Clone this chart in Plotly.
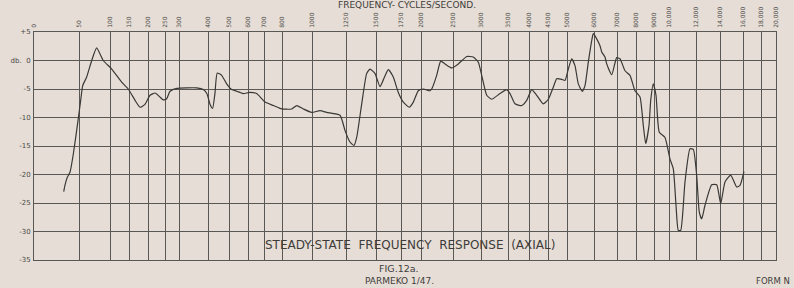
import numpy as np
import plotly.graph_objects as go

# Frequency axis (non-uniform chart-paper scale): tick frequencies, labels and relative positions
tick_freqs = [0, 50, 100, 150, 200, 250, 300, 400, 500, 600, 700, 800, 1000, 1250, 1500, 1750,
              2000, 2500, 3000, 3500, 4000, 4500, 5000, 6000, 7000, 8000, 9000, 10000, 12000,
              14000, 16000, 18000, 20000]
tick_labels = ["0", "50", "100", "150", "200", "250", "300", "400", "500", "600", "700", "800",
               "1000", "1250", "1500", "1750", "2000", "2500", "3000", "3500", "4000", "4500",
               "5000", "6000", "7000", "8000", "9000", "10,000", "12,000", "14,000", "16,000",
               "18,000", "20,000"]
scale_pos = [0, 45, 76, 95, 114, 131, 145, 174, 195, 214, 230, 248, 278, 312, 342, 367, 387,
             419, 447, 474, 495, 514, 533, 560, 583, 602, 620, 635, 662, 686, 709, 727, 742]

db_ticks = [5, 0, -5, -10, -15, -20, -25, -30, -35]
db_labels = ["+5", "db.  0", "-5", "-10", "-15", "-20", "-25", "-30", "-35"]

# Measured response: frequency (c/s) and level (dB)
freq = [33, 34.4, 37, 40, 43.7, 49.2, 52.7, 56, 62.4, 70.5, 78.5, 89.2, 104.5, 130.8, 148, 166,
        179, 192, 206, 221, 235, 245, 256, 268, 292, 327, 361, 384, 396, 410, 422, 433, 444, 465,
        489, 514, 541, 558, 575, 612, 654, 706, 752, 798, 865, 898, 942, 998, 1059, 1108, 1206,
        1243, 1283, 1317, 1339, 1381, 1422, 1450, 1492, 1540, 1573, 1623, 1673, 1723, 1779, 1854,
        1904, 1966, 2036, 2141, 2167, 2245, 2308, 2375, 2480, 2595, 2745, 2862, 2952, 3013, 3106,
        3198, 3352, 3476, 3548, 3667, 3826, 3945, 4071, 4203, 4376, 4508, 4639, 4729, 4860, 4947,
        5048, 5174, 5296, 5419, 5567, 5667, 5789, 5915, 5974, 6117, 6261, 6335, 6478, 6552, 6770,
        6987, 7158, 7421, 7684, 7947, 8222, 8406, 8539, 8722, 8817, 8961, 9133, 9353, 9733,
        10074, 10319, 10519, 10689, 10867, 11185, 11556, 11800, 12058, 12275, 12475, 12750,
        13308, 13725, 14061, 14435, 14930, 15452, 15739, 16111]
level = [-23.0, -21.9, -20.5, -19.6, -16.4, -10.2, -7.0, -4.4, -2.9, 0.0, 2.2, 0.0, -1.5, -3.8,
         -5.0, -7.0, -8.2, -7.7, -6.1, -5.7, -6.4, -6.9, -6.7, -5.4, -4.9, -4.8, -4.8, -5.1, -5.8,
         -7.7, -8.4, -5.8, -2.2, -2.6, -4.1, -5.1, -5.4, -5.6, -5.8, -5.6, -5.8, -7.3, -7.9, -8.5,
         -8.5, -7.9, -8.5, -9.1, -8.8, -9.1, -9.6, -12.3, -14.3, -14.9, -13.5, -7.6, -2.3, -1.5,
         -2.3, -4.6, -3.4, -1.6, -2.9, -5.6, -7.3, -8.2, -7.3, -5.3, -5.0, -5.3, -5.0, -2.6, -0.1,
         -0.6, -1.3, -0.6, 0.7, 0.6, -0.3, -2.6, -6.1, -6.8, -5.8, -5.1, -5.8, -7.6, -7.9, -7.0,
         -5.1, -6.1, -7.6, -6.8, -4.7, -3.2, -3.3, -3.5, -1.5, 0.3, -0.9, -4.1, -5.4, -4.4, -0.3,
         3.5, 4.7, 3.8, 2.6, 1.5, 0.6, -0.6, -2.5, 0.5, 0.3, -1.8, -2.6, -5.3, -6.4, -11.4, -14.6,
         -11.4, -7.0, -4.1, -6.1, -12.6, -13.5, -17.3, -19.0, -25.4, -29.8, -29.8, -21.3, -15.5,
         -15.6, -20.2, -26.6, -27.8, -25.4, -21.8, -21.8, -25.1, -21.3, -20.1, -22.2, -21.9, -19.5]

x_plot = np.interp(freq, tick_freqs, scale_pos)

PAPER = "#e6ded6"
GRID = "#5a5854"
INK = "#3a3836"
TEXT = "#3e3c3a"
FONT = "DejaVu Sans"

W, H = 794, 288
ML, MR, MT, MB = 34, 18, 32, 28
plot_w = W - ML - MR
plot_h = H - MT - MB


def px_to_paper(px, py):
    return (px - ML) / plot_w, (H - MB - py) / plot_h


fig = go.Figure()
fig.add_trace(go.Scatter(x=x_plot, y=level, mode="lines",
                         line=dict(color=INK, width=1.2, shape="spline", smoothing=0.5),
                         hoverinfo="skip", showlegend=False))

texts = [
    ("FREQUENCY- CYCLES/SECOND.", 407, 5, 9, "center"),
    ("STEADY-STATE  FREQUENCY  RESPONSE  (AXIAL)", 410, 245, 12, "center"),
    ("FIG.12a.", 399, 268, 9.5, "center"),
    ("PARMEKO 1/47.", 399, 281, 9, "center"),
    ("FORM N", 792, 281, 8.5, "right"),
]
annotations = []
for t, px, py, fs, xa in texts:
    ax, ay = px_to_paper(px, py)
    annotations.append(dict(text=t, x=ax, y=ay, xref="paper", yref="paper",
                            xanchor=xa, yanchor="middle",
                            showarrow=False, font=dict(size=fs, family=FONT, color=TEXT)))

fig.update_layout(
    width=W, height=H,
    margin=dict(l=ML, r=MR, t=MT, b=MB, autoexpand=False),
    paper_bgcolor=PAPER, plot_bgcolor=PAPER,
    font=dict(family=FONT, color="#4a4846"),
    xaxis=dict(range=[scale_pos[0], scale_pos[-1]], side="top", automargin=False,
               tickmode="array", tickvals=scale_pos, ticktext=tick_labels,
               tickangle=-90, tickfont=dict(size=6, color="#4a4846"),
               showgrid=True, gridcolor=GRID, gridwidth=1,
               showline=True, linecolor=GRID, linewidth=1, mirror=True,
               ticks="", zeroline=False, ticklabelstandoff=2),
    yaxis=dict(range=[-35, 5], automargin=False,
               tickmode="array", tickvals=db_ticks, ticktext=db_labels,
               tickfont=dict(size=7, color="#4a4846"),
               showgrid=True, gridcolor=GRID, gridwidth=1,
               showline=True, linecolor=GRID, linewidth=1, mirror=True,
               ticks="", zeroline=False, ticklabelstandoff=1),
    annotations=annotations,
)

fig.write_html("out.html")
